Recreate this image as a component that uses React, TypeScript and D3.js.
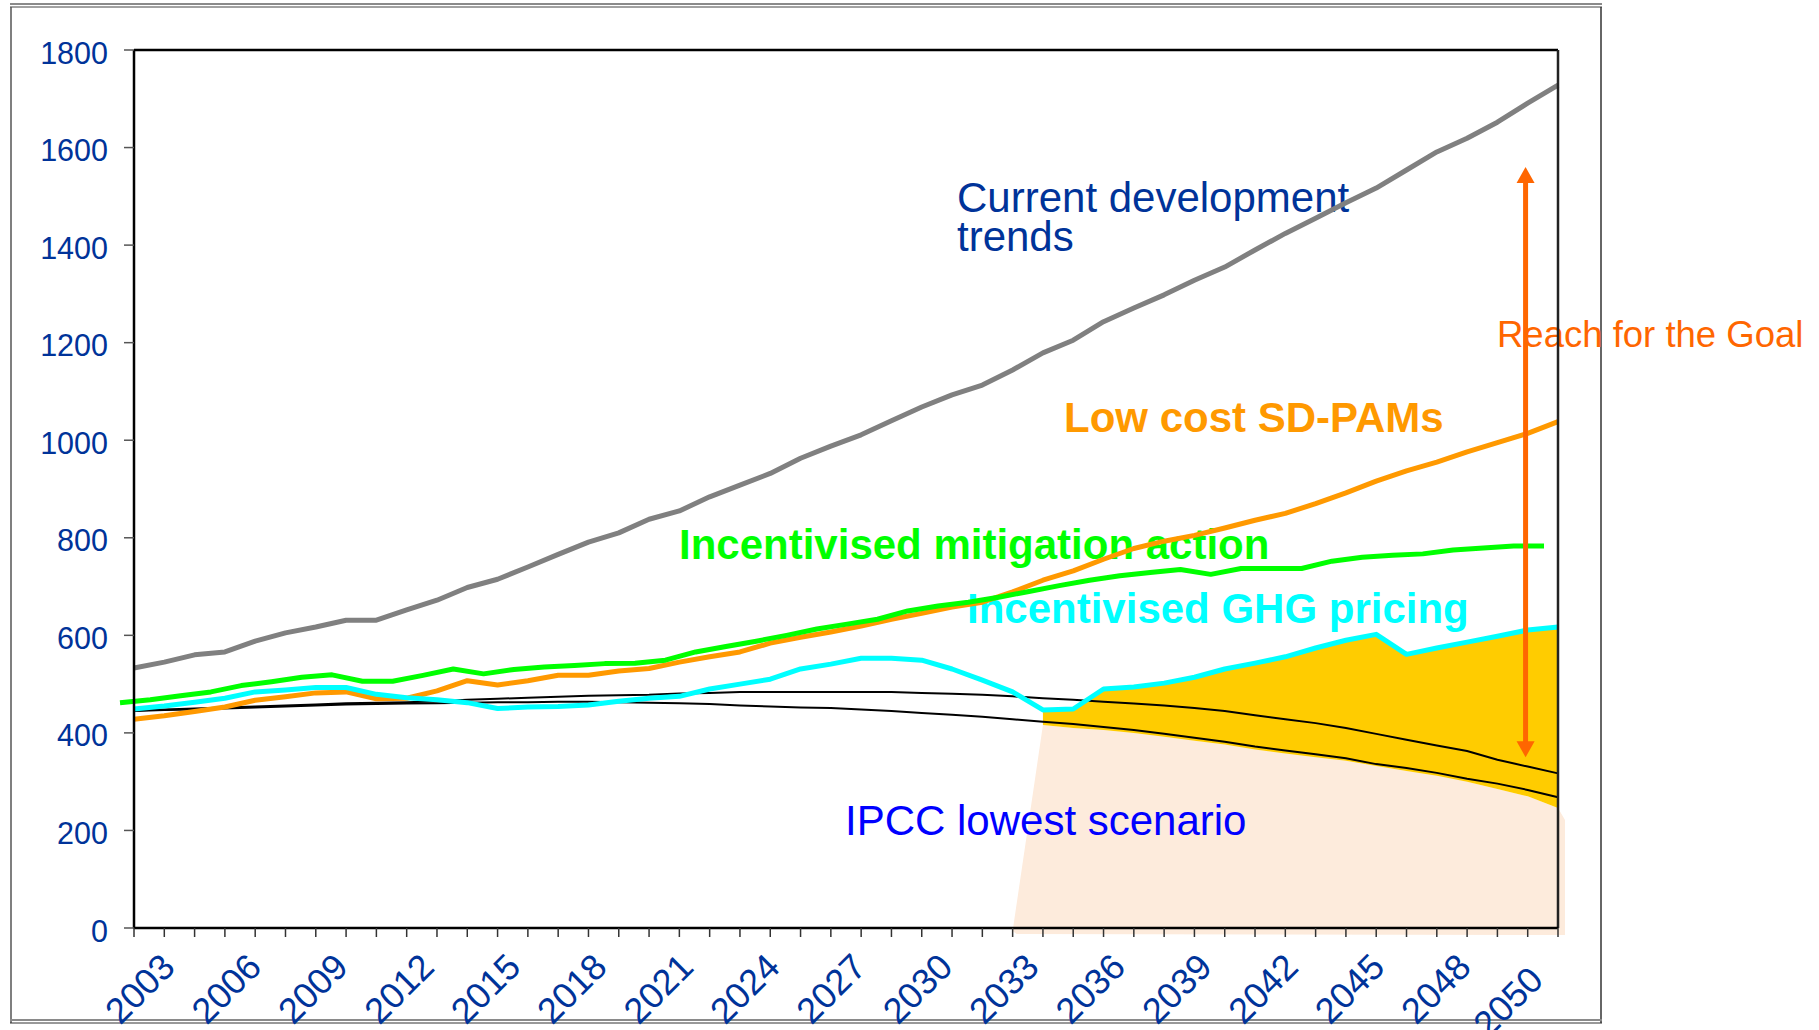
import React, { useEffect } from "react";
import * as d3 from "d3";

// ---------- data ----------
const years: number[] = d3.range(2003, 2051);

const currentTrends = [533,545,560,566,588,605,617,631,631,652,672,698,715,740,766,791,810,838,855,884,908,932,963,988,1011,1040,1068,1093,1113,1144,1179,1205,1243,1271,1298,1328,1355,1390,1424,1455,1487,1517,1554,1591,1619,1652,1691,1728];
const lowCostSDPAMs = [428,435,444,453,467,474,482,484,470,471,486,507,498,507,518,518,527,532,545,556,566,584,596,607,619,633,645,658,668,689,713,732,756,778,793,805,820,836,850,870,892,916,937,955,976,995,1014,1038];
const mitigationAction = [462,468,476,484,497,505,514,519,506,506,518,531,521,530,535,538,542,543,549,566,577,588,600,613,623,633,650,660,668,678,690,702,713,722,729,735,725,737,737,737,752,760,764,767,775,779,783,783];
const ghgPricing = [449,455,463,471,484,488,493,493,479,472,468,462,450,453,454,457,465,471,475,490,500,510,531,541,553,553,549,531,508,484,447,449,490,494,502,514,531,543,556,574,590,602,561,574,586,598,611,617];
const ipccUpper = [446,448,450,452,454,456,458,461,462,463,465,468,470,472,474,476,477,478,481,482,484,484,484,484,484,484,482,480,478,475,471,468,464,460,456,451,445,436,428,420,410,398,386,374,363,345,331,317];
const ipccLower = [445,447,448,450,452,454,456,458,459,460,461,462,463,463,464,464,463,462,461,459,456,454,452,451,448,445,441,437,433,428,423,418,412,406,398,390,382,372,364,356,348,336,328,318,306,296,283,268];

const gapStartYear = 2033;
const gapBottom = [416,410,406,400,392,384,376,366,358,350,343,332,322,312,300,285,270,246];
const peachFootYear = 2032;

const yTicks = [0,200,400,600,800,1000,1200,1400,1600,1800];
const xLabelYears = [2003,2006,2009,2012,2015,2018,2021,2024,2027,2030,2033,2036,2039,2042,2045,2048,2050];

const arrowYear = 2048.93;
const arrowTop = 1560;
const arrowBottom = 350;

// ---------- layout ----------
const W = 1819, H = 1030;
const L = 134, R = 1558, T = 50, B = 928;
const FONT = "'Liberation Sans', Arial, Helvetica, sans-serif";
const AXIS_BLUE = "#003399";

export default function App() {
  useEffect(() => {
    document.body.style.margin = "0";
    document.body.style.overflow = "hidden";
  }, []);

  const x = d3.scaleLinear().domain([2003, 2050]).range([L, R]);
  const y = d3.scaleLinear().domain([0, 1800]).range([B, T]);
  const greenShift = -14;
  const labelX = d3.scaleLinear().domain([2003, 2048]).range([177, 1473]);

  const mkLine = (vals: number[], dx = 0) =>
    d3.line<number>().x((_, i) => x(years[i]) + dx).y((d) => y(d))(vals) || "";

  const gapYears = gapBottom.map((_, i) => gapStartYear + i);
  const cyanAt = (yr: number) => ghgPricing[years.indexOf(yr)];
  const goldPath =
    d3.area<number>()
      .x((yr) => x(yr))
      .y0((yr, i) => y(gapBottom[i]))
      .y1((yr) => y(cyanAt(yr)))(gapYears) || "";

  const peachPts: [number, number][] = [
    [x(peachFootYear), y(0) + 3],
    ...gapYears.map((yr, i) => [x(yr), y(gapBottom[i])] as [number, number]),
    [x(2050) + 7, y(gapBottom[gapBottom.length - 1]) + 12],
    [x(2050) + 7, y(0) + 7],
    [x(peachFootYear) + 4, y(0) + 6],
  ];
  const peachPath = d3.line()(peachPts) || "";

  const ax = x(arrowYear);
  const aTop = y(arrowTop);
  const aBot = y(arrowBottom);
  const headL = 16, headW = 9;

  return (
    <svg width={W} height={H} style={{ position: "absolute", left: 0, top: 0, display: "block", background: "#fff" }}>
      <rect x={0} y={0} width={W} height={H} fill="#fff" />

      {/* outer frame */}
      <line x1={10} y1={4} x2={1602} y2={4} stroke="#8a8a8a" strokeWidth={2} />
      <line x1={10} y1={7} x2={1602} y2={7} stroke="#444" strokeWidth={1} />
      <line x1={11} y1={7} x2={11} y2={1023} stroke="#555" strokeWidth={1.5} />
      <line x1={1601} y1={7} x2={1601} y2={1023} stroke="#333" strokeWidth={1.5} />
      <line x1={10} y1={1020} x2={1602} y2={1020} stroke="#8a8a8a" strokeWidth={2} />
      <line x1={10} y1={1023} x2={1602} y2={1023} stroke="#333" strokeWidth={1} />

      {/* fills */}
      <path d={peachPath} fill="#FDEBDC" />
      <path d={goldPath} fill="#FFCC00" />

      {/* annotations */}
      <g fontFamily={FONT}>
        <text x={957} y={212} fontSize={42} fill="#003399">Current development</text>
        <text x={957} y={251} fontSize={42} fill="#003399">trends</text>
        <text x={1064} y={432} fontSize={42} fontWeight="bold" fill="#FF9900">Low cost SD-PAMs</text>
        <text x={679} y={559} fontSize={42} fontWeight="bold" fill="#00FF00">Incentivised mitigation action</text>
        <text x={967} y={623} fontSize={42} fontWeight="bold" fill="#00FFFF">Incentivised GHG pricing</text>
        <text x={845} y={835} fontSize={42} fill="#0000FF">IPCC lowest scenario</text>
        <text x={1497} y={347} fontSize={36.5} fill="#FF6600">Reach for the Goal</text>
      </g>

      {/* IPCC lines */}
      <path d={mkLine(ipccUpper)} fill="none" stroke="#000" strokeWidth={2} />
      <path d={mkLine(ipccLower)} fill="none" stroke="#000" strokeWidth={2} />

      {/* scenario lines */}
      <g fill="none" strokeWidth={5} strokeLinejoin="round">
        <path d={mkLine(currentTrends)} stroke="#808080" />
        <path d={mkLine(lowCostSDPAMs)} stroke="#FF9900" />
        <path d={mkLine(mitigationAction, greenShift)} stroke="#00FF00" />
        <path d={mkLine(ghgPricing)} stroke="#00FFFF" />
      </g>

      {/* arrow */}
      <line x1={ax} y1={aTop + headL - 1} x2={ax} y2={aBot - headL + 1} stroke="#FF6600" strokeWidth={5} />
      <polygon points={`${ax},${aTop} ${ax - headW},${aTop + headL} ${ax + headW},${aTop + headL}`} fill="#FF6600" />
      <polygon points={`${ax},${aBot} ${ax - headW},${aBot - headL} ${ax + headW},${aBot - headL}`} fill="#FF6600" />

      {/* plot frame */}
      <line x1={L} y1={T} x2={R} y2={T} stroke="#000" strokeWidth={2.5} />
      <line x1={R} y1={T} x2={R} y2={B} stroke="#222" strokeWidth={2.5} />
      <line x1={L} y1={B} x2={R} y2={B} stroke="#000" strokeWidth={2.5} />
      <line x1={L} y1={T} x2={L} y2={B} stroke="#000" strokeWidth={2.5} />

      {/* y axis */}
      <g fontFamily={FONT}>
        {yTicks.map((t) => (
          <g key={t}>
            <line x1={L - 10} y1={y(t)} x2={L} y2={y(t)} stroke="#555" strokeWidth={1.5} />
            <text x={108} y={y(t) + 13.5} fontSize={30.5} textAnchor="end" fill={AXIS_BLUE}>{t}</text>
          </g>
        ))}
      </g>

      {/* x axis */}
      <g>
        {years.map((yr) => (
          <line key={yr} x1={x(yr)} y1={B} x2={x(yr)} y2={B + 9} stroke="#333" strokeWidth={1.5} />
        ))}
      </g>
      <g fontFamily={FONT}>
        {xLabelYears.map((yr, i) => {
          const last = i === xLabelYears.length - 1;
          const px = labelX(yr) + (last ? 14.5 : 0);
          const py = 969 + (last ? 13 : 0);
          return (
            <text key={yr} x={px} y={py} fontSize={36} textAnchor="end" fill={AXIS_BLUE} transform={`rotate(-45 ${px} ${py})`}>{yr}</text>
          );
        })}
      </g>
    </svg>
  );
}
